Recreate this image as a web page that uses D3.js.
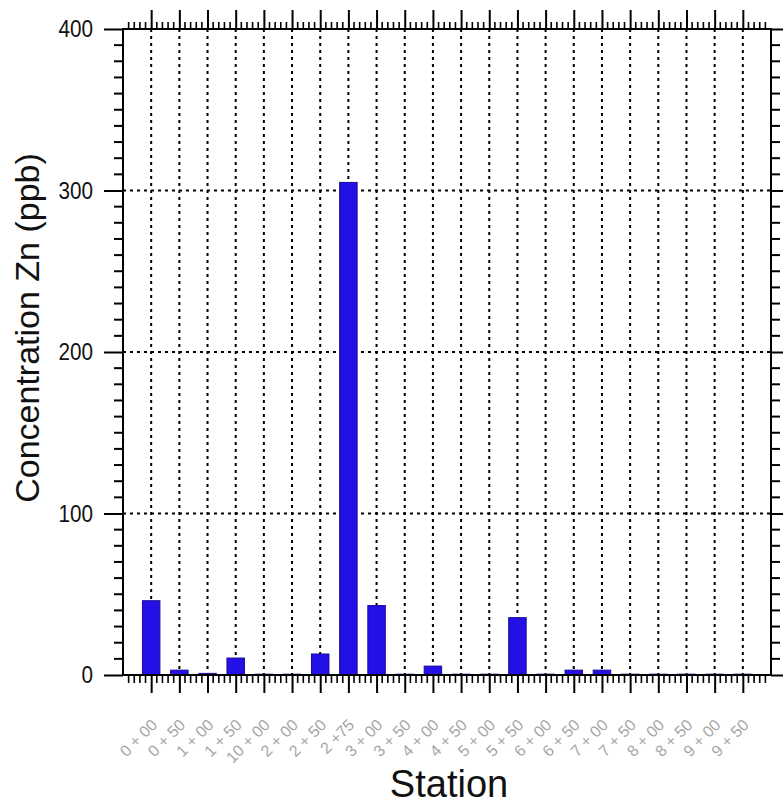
<!DOCTYPE html>
<html>
<head>
<meta charset="utf-8">
<script src="https://cdn.jsdelivr.net/npm/d3@7"></script>
<style>
  html, body { margin: 0; padding: 0; background: #ffffff; }
  svg { display: block; font-family: "Liberation Sans", Arial, sans-serif; }
</style>
</head>
<body>
<svg id="chart" width="783" height="806"></svg>
<script>
// Sampling stations along the transect
const stations = ["0 + 00", "0 + 50", "1 + 00", "1 + 50", "10 + 00", "2 + 00", "2 + 50", "2 +75",
                  "3 + 00", "3 + 50", "4 + 00", "4 + 50", "5 + 00", "5 + 50", "6 + 00", "6 + 50",
                  "7 + 00", "7 + 50", "8 + 00", "8 + 50", "9 + 00", "9 + 50"];
// Zinc concentration at each station (ppb)
const zinc = [46, 3, 1, 10.5, 0.5, 0.5, 13, 305, 43, 0.5, 5.5, 0.5, 0.5, 35.5, 0.5, 3,
              3, 0.5, 0.5, 0.5, 0.5, 0.5];
const yTicks = [0, 100, 200, 300, 400];
const yMinorStep = 10;
const minorPerStation = 5;

const svg = d3.select("#chart");
const plotLeft = 123, plotRight = 771, plotTop = 29, plotBottom = 675;

const x = d3.scalePoint().domain(stations).range([plotLeft, plotRight]).padding(1);
const step = x.step();
const xLin = d3.scaleLinear().domain([0, stations.length + 1]).range([plotLeft, plotRight]);
const y = d3.scaleLinear().domain([0, 400]).range([plotBottom, plotTop]);

// Dotted grid
const grid = svg.append("g").attr("stroke", "#000").attr("stroke-width", 2)
  .attr("stroke-dasharray", "3,4");
grid.selectAll("line.v").data(stations).join("line").attr("class", "v")
  .attr("x1", d => x(d)).attr("x2", d => x(d))
  .attr("y1", plotTop).attr("y2", plotBottom);
grid.selectAll("line.h").data(yTicks.filter(t => t > 0 && t < 400)).join("line").attr("class", "h")
  .attr("x1", plotLeft).attr("x2", plotRight)
  .attr("y1", d => y(d)).attr("y2", d => y(d));

// Bars
const bw = step * 0.62;
svg.append("g").selectAll("rect").data(stations).join("rect")
  .attr("x", d => x(d) - bw / 2)
  .attr("width", bw)
  .attr("y", (d, i) => y(zinc[i]))
  .attr("height", (d, i) => y(0) - y(zinc[i]))
  .attr("fill", "#2210e6")
  .attr("stroke", "#180a9a")
  .attr("stroke-width", 1);

// Minor tick positions along x (five subdivisions per station)
const xMinor = d3.range(1, (stations.length + 1) * minorPerStation)
  .filter(k => k % minorPerStation !== 0)
  .map(k => xLin(k / minorPerStation));
const yMinor = d3.range(yMinorStep, 400, yMinorStep).filter(v => v % 100 !== 0);

// Bottom axis
const axB = svg.append("g").attr("transform", `translate(0,${plotBottom})`);
axB.call(d3.axisBottom(x).tickSize(18).tickFormat(""))
  .call(g => g.select(".domain").remove());
axB.selectAll(".tick line").attr("stroke-width", 2);
axB.selectAll("line.minor").data(xMinor).join("line").attr("class", "minor")
  .attr("x1", d => d).attr("x2", d => d).attr("y1", 0).attr("y2", 8)
  .attr("stroke", "#000").attr("stroke-width", 1.6);

// Top axis
const axT = svg.append("g").attr("transform", `translate(0,${plotTop})`);
axT.call(d3.axisTop(x).tickSize(19).tickFormat(""))
  .call(g => g.select(".domain").remove());
axT.selectAll(".tick line").attr("stroke-width", 2);
axT.selectAll("line.minor").data(xMinor).join("line").attr("class", "minor")
  .attr("x1", d => d).attr("x2", d => d).attr("y1", 0).attr("y2", -7)
  .attr("stroke", "#000").attr("stroke-width", 1.6);

// Left axis
const axL = svg.append("g").attr("transform", `translate(${plotLeft},0)`);
axL.call(d3.axisLeft(y).tickValues(yTicks).tickSize(19).tickPadding(11).tickFormat(d3.format("d")))
  .call(g => g.select(".domain").remove());
axL.selectAll(".tick line").attr("stroke-width", 2);
axL.selectAll(".tick text").attr("font-size", 24).attr("fill", "#111")
  .attr("lengthAdjust", "spacingAndGlyphs")
  .attr("textLength", d => String(d).length * 11.5);
axL.selectAll("line.minor").data(yMinor).join("line").attr("class", "minor")
  .attr("y1", d => y(d)).attr("y2", d => y(d)).attr("x1", 0).attr("x2", -9)
  .attr("stroke", "#000").attr("stroke-width", 2);

// Right axis
const axR = svg.append("g").attr("transform", `translate(${plotRight},0)`);
axR.call(d3.axisRight(y).tickValues(yTicks).tickSize(19).tickFormat(""))
  .call(g => g.select(".domain").remove());
axR.selectAll(".tick line").attr("stroke-width", 2);
axR.selectAll("line.minor").data(yMinor).join("line").attr("class", "minor")
  .attr("y1", d => y(d)).attr("y2", d => y(d)).attr("x1", 0).attr("x2", 9)
  .attr("stroke", "#000").attr("stroke-width", 2);

// Frame
svg.append("rect").attr("x", plotLeft).attr("y", plotTop)
  .attr("width", plotRight - plotLeft).attr("height", plotBottom - plotTop)
  .attr("fill", "none").attr("stroke", "#000").attr("stroke-width", 2);

// Station labels, slanted
svg.append("g").selectAll("text").data(stations).join("text")
  .attr("transform", d => `translate(${x(d) + 7},${plotBottom + 51}) rotate(-45)`)
  .attr("text-anchor", "end")
  .attr("font-size", 16)
  .attr("fill", "#a6a6a6")
  .text(d => d);

// Axis titles
svg.append("text")
  .attr("transform", `translate(39,${(plotTop + plotBottom) / 2 - 24}) rotate(-90)`)
  .attr("text-anchor", "middle")
  .attr("font-size", 34)
  .attr("fill", "#111")
  .text("Concentration Zn (ppb)");

svg.append("text")
  .attr("x", 449).attr("y", 797)
  .attr("text-anchor", "middle")
  .attr("font-size", 38)
  .attr("fill", "#111")
  .text("Station");
</script>
</body>
</html>
